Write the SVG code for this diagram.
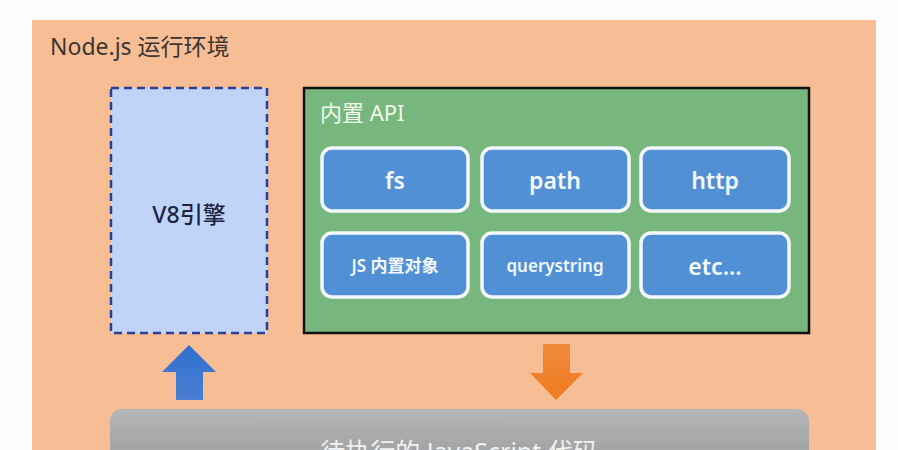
<svg xmlns="http://www.w3.org/2000/svg" width="898" height="450" viewBox="0 0 898 450">
<defs>
<style>
.t{font-family:"Noto Sans","Noto Sans CJK SC",sans-serif}
.btn rect{fill:#5190d5;stroke:#f4f8fb;stroke-width:3.5}
.btn text{fill:#f4f8fb;text-anchor:middle;font-weight:600}
</style>
<linearGradient id="gray" x1="0" y1="0" x2="0" y2="1">
<stop offset="0" stop-color="#b4b6b8"/>
<stop offset="1" stop-color="#9a9c9e"/>
</linearGradient>
<linearGradient id="blueArr" x1="0" y1="0" x2="0" y2="1">
<stop offset="0" stop-color="#2f6fd0"/>
<stop offset="1" stop-color="#4a7fd0"/>
</linearGradient>
<linearGradient id="orArr" x1="0" y1="0" x2="0" y2="1">
<stop offset="0" stop-color="#f08a3c"/>
<stop offset="1" stop-color="#f07a20"/>
</linearGradient>
</defs>
<rect width="898" height="450" fill="#fdfdfd"/>
<g id="nodejs-env">
<rect x="32" y="20" width="844" height="440" fill="#f7be95"/>
<text class="t" x="50" y="55" font-size="23" fill="#3b3632">Node.js 运行环境</text>
</g>
<g id="v8">
<rect x="111" y="88" width="156" height="245" fill="#c0d4f8" stroke="#2b3f99" stroke-width="2.5" stroke-dasharray="8,5"/>
<text class="t" x="189" y="223" font-size="23" font-weight="500" fill="#1c2442" text-anchor="middle">V8引擎</text>
</g>
<g id="builtin-api">
<rect x="304" y="88" width="505" height="245" fill="#77b77d" stroke="#111" stroke-width="2.5"/>
<text class="t" x="320" y="121" font-size="22" fill="#f2f7ec">内置 API</text>
</g>
<g id="fs" class="btn"><rect x="322" y="148" width="146" height="63" rx="10"/><text class="t" x="395" y="189" font-size="23">fs</text></g>
<g id="path" class="btn"><rect x="482" y="148" width="147" height="63" rx="10"/><text class="t" x="555" y="189" font-size="23">path</text></g>
<g id="http" class="btn"><rect x="641" y="148" width="148" height="63" rx="10"/><text class="t" x="715" y="189" font-size="23">http</text></g>
<g id="js-builtin" class="btn"><rect x="322" y="233" width="146" height="64" rx="10"/><text class="t" x="395" y="272" font-size="17">JS 内置对象</text></g>
<g id="querystring" class="btn"><rect x="482" y="233" width="147" height="64" rx="10"/><text class="t" x="555" y="272" font-size="17">querystring</text></g>
<g id="etc" class="btn"><rect x="641" y="233" width="148" height="64" rx="10"/><text class="t" x="715" y="275" font-size="23">etc...</text></g>
<g id="js-code">
<rect x="110" y="409" width="699" height="60" rx="12" fill="url(#gray)"/>
<text class="t" x="459" y="461" font-size="25" fill="#f2f2f2" text-anchor="middle">待执行的 JavaScript 代码</text>
</g>
<g id="connectors">
<polygon points="189,345 216,372 203,372 203,400 176,400 176,372 162,372" fill="url(#blueArr)"/>
<polygon points="543,344 570,344 570,373 583,373 556,400 530,373 543,373" fill="url(#orArr)"/>
</g>
</svg>
